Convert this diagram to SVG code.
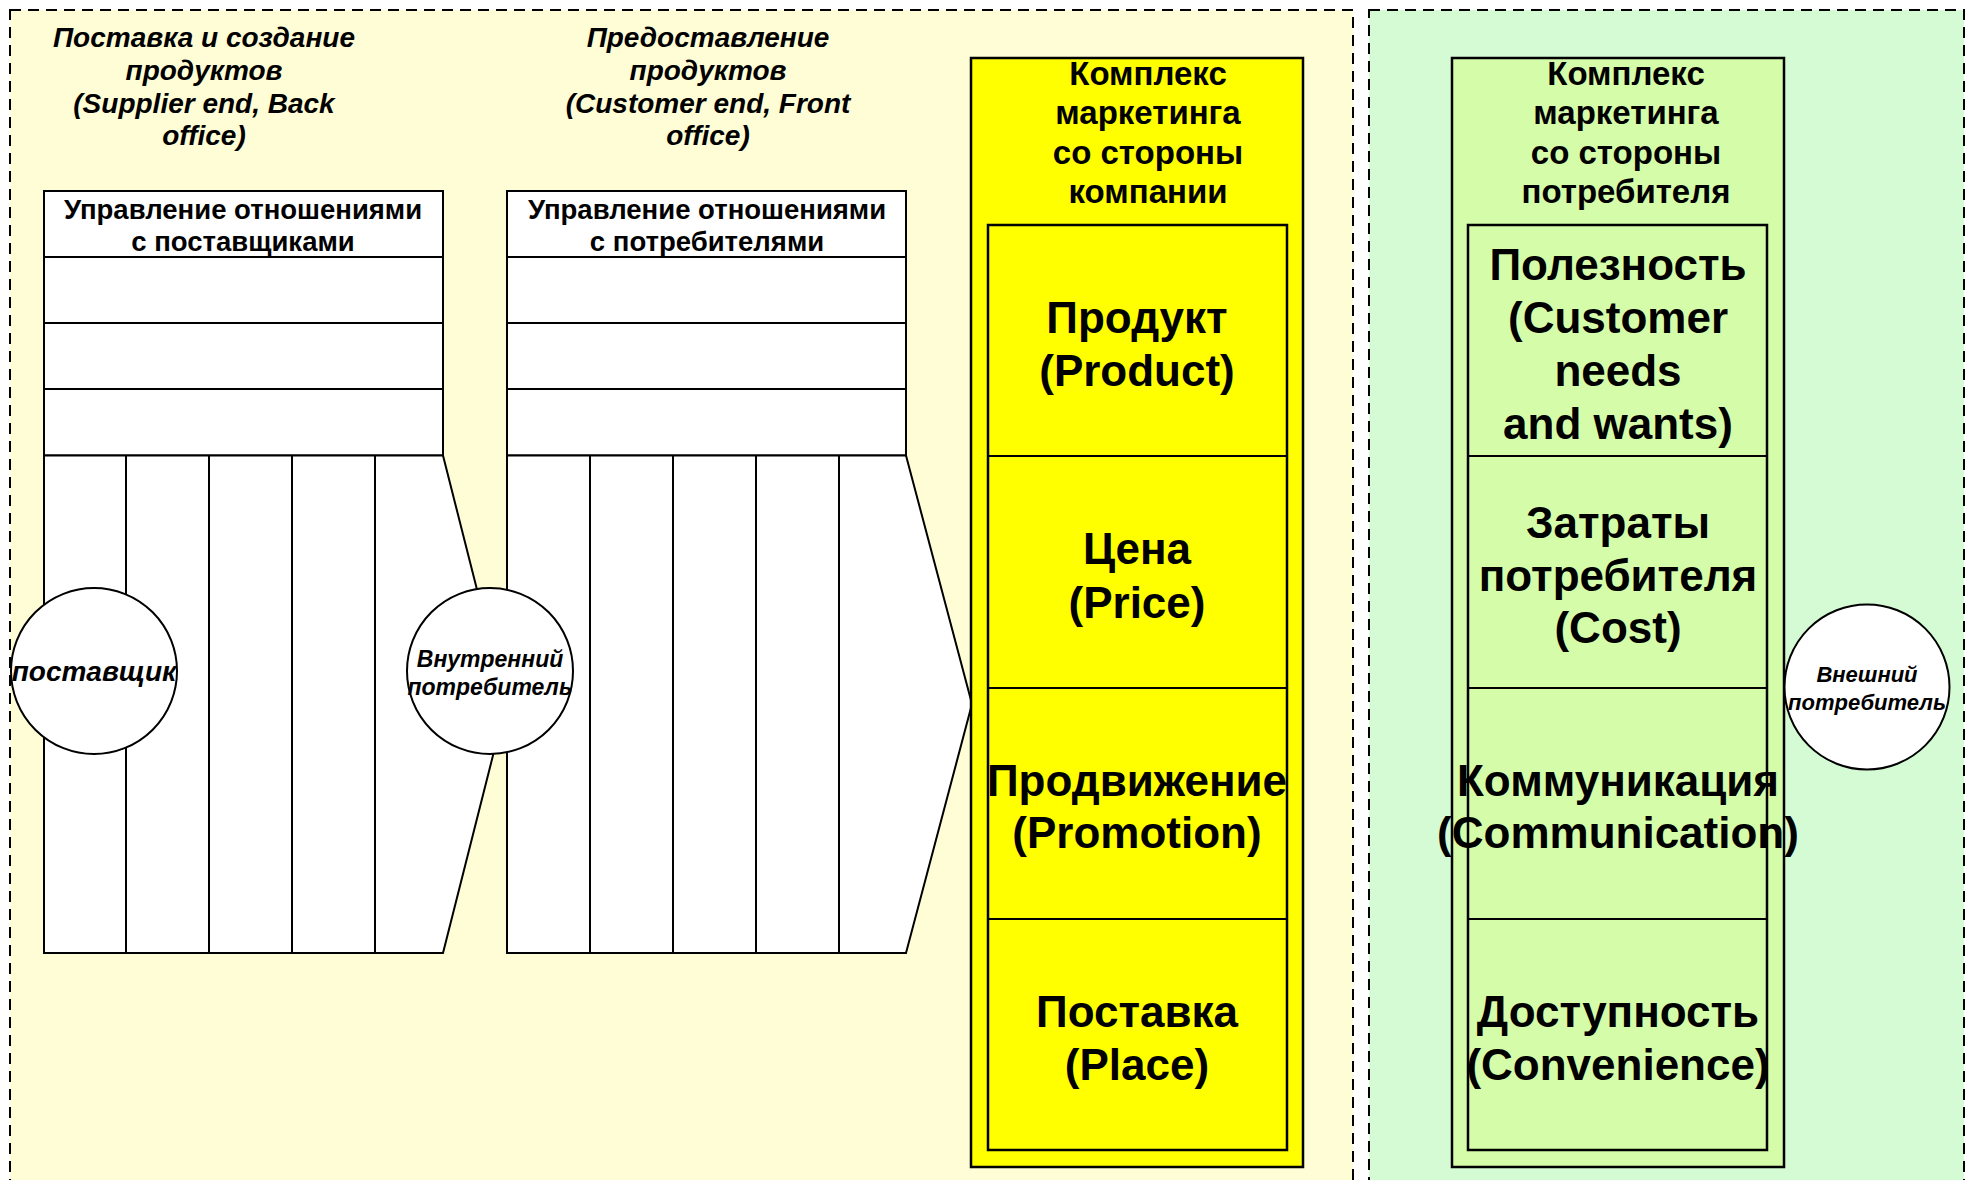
<svg xmlns="http://www.w3.org/2000/svg" width="1968" height="1180" viewBox="0 0 1968 1180">
<style>
.panel{stroke:#000;stroke-width:2;stroke-dasharray:11 7}
.ln{fill:none;stroke:#000;stroke-width:2}
.wb{fill:#fff;stroke:#000;stroke-width:2}
.t{font-family:"Liberation Sans",Arial,sans-serif;font-weight:bold;fill:#000;text-anchor:middle}
.ti{font-family:"Liberation Sans",Arial,sans-serif;font-weight:bold;font-style:italic;fill:#000;text-anchor:middle}
.big{font-size:44px}
.hd{font-size:33px}
.sm{font-size:27.5px}
.tt{font-size:28px}
</style>
<rect x="0" y="0" width="1968" height="1180" fill="#fff"/>
<g id="panel-left"><rect class="panel" x="10" y="10" width="1343" height="1200" fill="#FFFDD5"/></g>
<g id="panel-right"><rect class="panel" x="1369" y="10" width="595" height="1200" fill="#D5FBD5"/></g>

<g id="title-supply">
<text class="ti tt" x="204" y="47">Поставка и создание</text>
<text class="ti tt" x="204" y="79.5">продуктов</text>
<text class="ti tt" x="204" y="112.5">(Supplier end, Back</text>
<text class="ti tt" x="204" y="145">office)</text>
</g>
<g id="title-delivery">
<text class="ti tt" x="708" y="47">Предоставление</text>
<text class="ti tt" x="708" y="79.5">продуктов</text>
<text class="ti tt" x="708" y="112.5">(Customer end, Front</text>
<text class="ti tt" x="708" y="145">office)</text>
</g>

<g id="srm">
<rect class="wb" x="44" y="191" width="399" height="264.5"/>
<line class="ln" x1="44" y1="257" x2="443" y2="257"/>
<line class="ln" x1="44" y1="323" x2="443" y2="323"/>
<line class="ln" x1="44" y1="389" x2="443" y2="389"/>
<text class="t sm" x="243" y="219">Управление отношениями</text>
<text class="t sm" x="243" y="251">с поставщиками</text>
<polygon class="wb" points="44,455.5 443,455.5 506,704 443,953 44,953"/>
<line class="ln" x1="126" y1="455.5" x2="126" y2="953"/>
<line class="ln" x1="209" y1="455.5" x2="209" y2="953"/>
<line class="ln" x1="292" y1="455.5" x2="292" y2="953"/>
<line class="ln" x1="375" y1="455.5" x2="375" y2="953"/>
</g>

<g id="crm">
<rect class="wb" x="507" y="191" width="399" height="264.5"/>
<line class="ln" x1="507" y1="257" x2="906" y2="257"/>
<line class="ln" x1="507" y1="323" x2="906" y2="323"/>
<line class="ln" x1="507" y1="389" x2="906" y2="389"/>
<text class="t sm" x="707" y="219">Управление отношениями</text>
<text class="t sm" x="707" y="251">с потребителями</text>
<polygon class="wb" points="507,455.5 906,455.5 972,704 906,953 507,953"/>
<line class="ln" x1="590" y1="455.5" x2="590" y2="953"/>
<line class="ln" x1="673" y1="455.5" x2="673" y2="953"/>
<line class="ln" x1="756" y1="455.5" x2="756" y2="953"/>
<line class="ln" x1="839" y1="455.5" x2="839" y2="953"/>
</g>

<g id="mix-company">
<rect x="971" y="58" width="332" height="1109" fill="#FFFF00" stroke="#000" stroke-width="2.5"/>
<text class="t hd" x="1148" y="85">Комплекс</text>
<text class="t hd" x="1148" y="124">маркетинга</text>
<text class="t hd" x="1148" y="164">со стороны</text>
<text class="t hd" x="1148" y="203">компании</text>
<rect x="988" y="225" width="299" height="925" fill="#FFFF00" stroke="#000" stroke-width="2.5"/>
<line class="ln" x1="988" y1="456" x2="1287" y2="456"/>
<line class="ln" x1="988" y1="688" x2="1287" y2="688"/>
<line class="ln" x1="988" y1="919" x2="1287" y2="919"/>
<text class="t big" x="1137" y="333">Продукт</text>
<text class="t big" x="1137" y="385.5">(Product)</text>
<text class="t big" x="1137" y="564">Цена</text>
<text class="t big" x="1137" y="617.5">(Price)</text>
<text class="t big" x="1137" y="796">Продвижение</text>
<text class="t big" x="1137" y="847.5">(Promotion)</text>
<text class="t big" x="1137" y="1027">Поставка</text>
<text class="t big" x="1137" y="1079.5">(Place)</text>
</g>

<g id="mix-customer">
<rect x="1452" y="58" width="332" height="1109" fill="#D5FCA8" stroke="#000" stroke-width="2.5"/>
<text class="t hd" x="1626" y="85">Комплекс</text>
<text class="t hd" x="1626" y="124">маркетинга</text>
<text class="t hd" x="1626" y="164">со стороны</text>
<text class="t hd" x="1626" y="203">потребителя</text>
<rect x="1468" y="225" width="299" height="925" fill="#D5FCA8" stroke="#000" stroke-width="2.5"/>
<line class="ln" x1="1468" y1="456" x2="1767" y2="456"/>
<line class="ln" x1="1468" y1="688" x2="1767" y2="688"/>
<line class="ln" x1="1468" y1="919" x2="1767" y2="919"/>
<text class="t big" x="1618" y="280">Полезность</text>
<text class="t big" x="1618" y="333">(Customer</text>
<text class="t big" x="1618" y="385.5">needs</text>
<text class="t big" x="1618" y="438.5">and wants)</text>
<text class="t big" x="1618" y="537.5">Затраты</text>
<text class="t big" x="1618" y="590.5">потребителя</text>
<text class="t big" x="1618" y="643">(Cost)</text>
<text class="t big" x="1618" y="796">Коммуникация</text>
<text class="t big" x="1618" y="847.5">(Communication)</text>
<text class="t big" x="1618" y="1027">Доступность</text>
<text class="t big" x="1618" y="1079.5">(Convenience)</text>
</g>

<g id="supplier">
<circle class="wb" cx="94" cy="671" r="83"/>
<text class="ti" font-size="28" x="94" y="681">поставщик</text>
</g>
<g id="internal-customer">
<circle class="wb" cx="490" cy="671" r="83"/>
<text class="ti" font-size="23" x="490" y="667">Внутренний</text>
<text class="ti" font-size="23" x="490" y="695">потребитель</text>
</g>
<g id="external-customer">
<circle class="wb" cx="1867" cy="687" r="82.5"/>
<text class="ti" font-size="22" x="1867" y="682">Внешний</text>
<text class="ti" font-size="22" x="1867" y="710">потребитель</text>
</g>
<g id="connectors"></g>
</svg>
